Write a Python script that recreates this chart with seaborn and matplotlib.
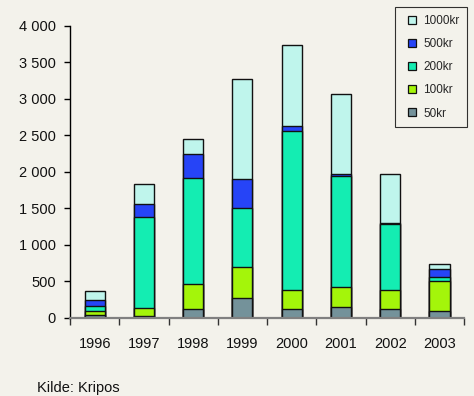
import matplotlib
matplotlib.use("Agg")
import matplotlib.pyplot as plt
from matplotlib.lines import Line2D
from matplotlib.ticker import FixedLocator, FuncFormatter
import numpy as np
import pandas as pd
import seaborn as sns

# Counterfeit notes seized per year, by denomination
years = ["1996", "1997", "1998", "1999", "2000", "2001", "2002", "2003"]
kr50 = [30, 27, 114, 270, 114, 146, 114, 86]
kr100 = [60, 106, 352, 424, 270, 274, 270, 416]
kr200 = [70, 1251, 1442, 809, 2174, 1525, 894, 55]
kr500 = [80, 174, 329, 392, 72, 28, 20, 114]
kr1000 = [130, 268, 211, 1370, 1106, 1086, 671, 64]

series_names = ["50kr", "100kr", "200kr", "500kr", "1000kr"]
series_values = [kr50, kr100, kr200, kr500, kr1000]
series_colors = ["#74929A", "#A4F50A", "#14EDB2", "#2644F7", "#BFF5EC"]

y_ticks = [0, 500, 1000, 1500, 2000, 2500, 3000, 3500, 4000]
source_text = "Kilde: Kripos"

bg = "#F3F2EB"
sns.set_theme(style="white")
plt.rcParams["font.family"] = ["Liberation Sans", "DejaVu Sans"]

fig = plt.figure(figsize=(4.74, 3.96), dpi=100, facecolor=bg)
ax = fig.add_axes([0.1477, 0.198, 0.8313, 0.737])
ax.set_facecolor(bg)

# Stacked bars: draw cumulative totals from the top layer down
cum = np.cumsum(np.array(series_values), axis=0)
for i in range(len(series_names) - 1, -1, -1):
    df = pd.DataFrame({"year": years, "value": cum[i]})
    sns.barplot(data=df, x="year", y="value", color=series_colors[i],
                saturation=1, width=0.41, edgecolor="#111111",
                linewidth=1.0, ax=ax)

ax.set_xlim(-0.5, len(years) - 0.5)
ax.set_ylim(0, 4000)
ax.set_xlabel("")
ax.set_ylabel("")

ax.yaxis.set_major_locator(FixedLocator(y_ticks))
ax.yaxis.set_major_formatter(FuncFormatter(lambda v, p: f"{v:,.0f}".replace(",", " ")))
ax.tick_params(axis="y", which="major", left=True, length=4, width=1,
               color="black", pad=6, labelsize=10.5, labelcolor="#111111")

ax.xaxis.set_minor_locator(FixedLocator(np.arange(-0.5, len(years), 1.0)))
ax.tick_params(axis="x", which="major", bottom=True, length=0, pad=14,
               labelsize=10.5, labelcolor="#111111")
ax.tick_params(axis="x", which="minor", bottom=True, length=5, width=1,
               color="#333333")

for s in ["top", "right"]:
    ax.spines[s].set_visible(False)
ax.spines["left"].set_color("black")
ax.spines["left"].set_linewidth(1.0)
ax.spines["bottom"].set_color("#808080")
ax.spines["bottom"].set_linewidth(1.6)
ax.spines["bottom"].set_zorder(5)

handles = [Line2D([], [], linestyle="none", marker="s", markersize=5.2,
                  markerfacecolor=series_colors[i], markeredgecolor="#111111",
                  markeredgewidth=0.9, label=series_names[i])
           for i in range(len(series_names) - 1, -1, -1)]
leg = fig.legend(handles=handles, loc="upper right",
                 bbox_to_anchor=(467 / 474, 1 - 7 / 396),
                 frameon=True, fontsize=8.5, handlelength=1.5,
                 handletextpad=0.2, labelspacing=0.95, borderpad=0.65,
                 borderaxespad=0, fancybox=False)
leg.get_frame().set_edgecolor("black")
leg.get_frame().set_linewidth(0.8)
leg.get_frame().set_facecolor(bg)

fig.text(37 / 474, 1 - 388 / 396, source_text, fontsize=10.5, color="#111111",
         ha="left", va="center")

fig.savefig("out.png", dpi=100, facecolor=bg)
